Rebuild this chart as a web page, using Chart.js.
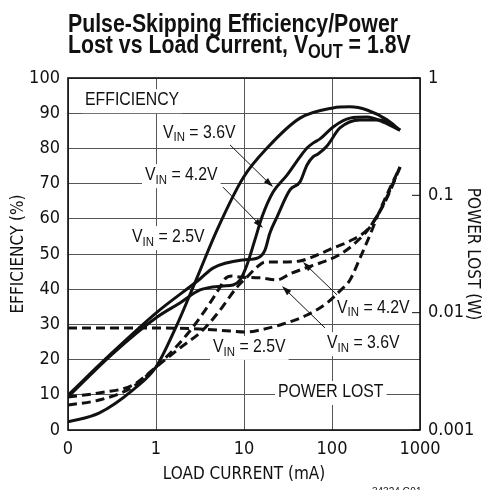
<!DOCTYPE html>
<html>
<head>
<meta charset="utf-8">
<script src="https://cdn.jsdelivr.net/npm/chart.js"></script>
<style>
  html, body { margin: 0; padding: 0; background: #fff; }
</style>
</head>
<body>
<canvas id="chart" width="495" height="490"></canvas>
<script>
const NARROW = "'Liberation Sans Narrow', 'DejaVu Sans Condensed', sans-serif";
const PLAIN = "'Liberation Sans', Arial, sans-serif";
const INK = '#111';

// axis ticks
const xTickValues = [0.1, 1, 10, 100, 1000];
const xTickLabels = ['0', '1', '10', '100', '1000'];
const powerTickValues = [0.001, 0.01, 0.1, 1];
const powerTickLabels = ['0.001', '0.01', '0.1', '1'];

// efficiency (%) vs load current (mA)
const effCurrent25 = [0.1, 0.225, 0.548, 1.0, 1.69, 2.85, 4.93, 9.75, 18.3, 43.3, 103, 160, 250, 422, 593];
const eff25 = [2.3, 4.8, 11.4, 17.9, 29.3, 42.6, 56.8, 71.6, 80.1, 88.6, 91.5, 91.8, 90.9, 88.1, 85.2];

const effCurrent36 = [0.1, 0.316, 1.03, 1.87, 3.16, 5.77, 7.5, 9.0, 10.8, 13.3, 16.0, 21.4, 30.8, 43.3, 52, 60.8, 73.1, 103, 160, 250, 380, 593];
const eff36 = [9.4, 21.5, 32.1, 36.1, 39.8, 40.9, 41.2, 42.6, 46.9, 54.0, 60.5, 67.6, 72.4, 77.6, 80.1, 81.5, 82.7, 86.1, 88.6, 88.9, 87.5, 85.2];

const effCurrent42 = [0.1, 0.316, 1.03, 3.16, 4.44, 9.75, 14.4, 17.3, 19.7, 23.7, 33.3, 43.3, 52, 60.8, 69.3, 87.7, 123, 208, 351, 593];
const eff42 = [9.9, 21.9, 33.5, 42.9, 46.0, 48.3, 48.9, 51.1, 56.0, 60.5, 68.2, 70.5, 75.3, 77.6, 78.4, 80.7, 85.8, 88.1, 88.1, 85.2];

// power lost (W) vs load current (mA)
const lossCurrent25 = [0.1, 0.39, 1.0, 3.16, 6.93, 10.8, 15.2, 27.7, 52, 87.7, 123, 160, 208, 270, 351, 456, 593];
const loss25 = [0.0074, 0.0074, 0.0074, 0.00726, 0.00698, 0.00684, 0.00712, 0.0080, 0.00955, 0.0121, 0.0153, 0.0190, 0.0292, 0.0459, 0.075, 0.1155, 0.174];

const lossCurrent36 = [0.1, 0.225, 0.548, 1.0, 1.69, 2.63, 4.11, 5.34, 6.08, 7.31, 9.0, 15.2, 23.7, 33.3, 46.8, 73.1, 114, 173, 270, 380, 593];
const loss36 = [0.00163, 0.0018, 0.00233, 0.00344, 0.0051, 0.00755, 0.0121, 0.0165, 0.0194, 0.0205, 0.0201, 0.0198, 0.0190, 0.0214, 0.0236, 0.0265, 0.0304, 0.0377, 0.0537, 0.0827, 0.174];

const lossCurrent42 = [0.1, 0.225, 0.548, 1.0, 1.87, 3.42, 5.34, 8.32, 10.8, 14.1, 17.3, 25.6, 43.3, 67.6, 103, 160, 250, 333, 433, 593];
const loss42 = [0.00191, 0.00207, 0.00242, 0.00344, 0.0050, 0.00712, 0.0105, 0.0165, 0.0201, 0.0245, 0.0270, 0.0270, 0.0276, 0.0310, 0.0356, 0.0408, 0.0507, 0.0680, 0.0993, 0.174];

// callouts: [text, subscript?] pieces, anchored left/middle at (mA, %)
const notes = [
  { x: 0.156, y: 93.7, parts: [['EFFICIENCY', false]] },
  { x: 1.2, y: 84.4, parts: [['V', false], ['IN', true], [' = 3.6V', false]] },
  { x: 0.75, y: 72.4, parts: [['V', false], ['IN', true], [' = 4.2V', false]] },
  { x: 0.534, y: 54.8, parts: [['V', false], ['IN', true], [' = 2.5V', false]] },
  { x: 4.44, y: 23.6, parts: [['V', false], ['IN', true], [' = 2.5V', false]] },
  { x: 114, y: 34.7, parts: [['V', false], ['IN', true], [' = 4.2V', false]] },
  { x: 87.7, y: 24.7, parts: [['V', false], ['IN', true], [' = 3.6V', false]] },
  { x: 24.3, y: 10.8, parts: [['POWER LOST', false]] }
];
// arrows: from (mA, %) to (mA, %)
const arrows = [
  [6.93, 81.0, 21.4, 69.0],
  [5.77, 69.0, 16.4, 57.4],
  [114, 38.4, 46.8, 47.7],
  [83.2, 29.0, 27.0, 40.9]
];

function points(xs, ys) {
  return xs.map((x, i) => ({ x, y: ys[i] }));
}

function curve(data, axis, dashed) {
  return {
    data,
    yAxisID: axis,
    borderColor: INK,
    borderWidth: 3,
    borderDash: dashed ? [9, 5] : [],
    pointRadius: 0,
    fill: false,
    cubicInterpolationMode: 'monotone'
  };
}

const LABEL_SIZE = 18;
const SUB_SIZE = 13;
const SQUEEZE = 0.88;

function partsWidth(ctx, parts) {
  let w = 0;
  parts.forEach(([t, sub]) => {
    ctx.font = (sub ? SUB_SIZE : LABEL_SIZE) + 'px ' + PLAIN;
    w += ctx.measureText(t).width;
  });
  return w * SQUEEZE;
}

function drawParts(ctx, parts, x, y) {
  ctx.save();
  ctx.translate(x, y);
  ctx.scale(SQUEEZE, 1);
  ctx.fillStyle = INK;
  ctx.textBaseline = 'middle';
  let cx = 0;
  parts.forEach(([t, sub]) => {
    ctx.font = (sub ? SUB_SIZE : LABEL_SIZE) + 'px ' + PLAIN;
    ctx.fillText(t, cx, sub ? 5 : 0);
    cx += ctx.measureText(t).width;
  });
  ctx.restore();
}

const notesPlugin = {
  id: 'notes',
  beforeDatasetsDraw(chart) {
    const { ctx, scales } = chart;
    notes.forEach(n => {
      const px = scales.x.getPixelForValue(n.x);
      const py = scales.y.getPixelForValue(n.y);
      const w = partsWidth(ctx, n.parts);
      ctx.fillStyle = '#fff';
      ctx.fillRect(px - 3, py - 11, w + 6, 24);
      drawParts(ctx, n.parts, px, py);
    });
  },
  afterDatasetsDraw(chart) {
    const { ctx, scales, chartArea: a } = chart;
    ctx.save();
    ctx.strokeStyle = INK;
    ctx.fillStyle = INK;
    ctx.lineWidth = 1;
    arrows.forEach(([x0, y0, x1, y1]) => {
      const ax = scales.x.getPixelForValue(x0);
      const ay = scales.y.getPixelForValue(y0);
      const bx = scales.x.getPixelForValue(x1);
      const by = scales.y.getPixelForValue(y1);
      const ang = Math.atan2(by - ay, bx - ax);
      ctx.beginPath();
      ctx.moveTo(ax, ay);
      ctx.lineTo(bx - 8 * Math.cos(ang), by - 8 * Math.sin(ang));
      ctx.stroke();
      ctx.beginPath();
      ctx.moveTo(bx, by);
      ctx.lineTo(bx - 10 * Math.cos(ang) + 3 * Math.sin(ang), by - 10 * Math.sin(ang) - 3 * Math.cos(ang));
      ctx.lineTo(bx - 10 * Math.cos(ang) - 3 * Math.sin(ang), by - 10 * Math.sin(ang) + 3 * Math.cos(ang));
      ctx.closePath();
      ctx.fill();
    });
    // small inner ticks of the power axis
    powerTickValues.forEach(v => {
      const py = scales.y2.getPixelForValue(v);
      ctx.beginPath();
      ctx.moveTo(a.right - 8, py);
      ctx.lineTo(a.right, py);
      ctx.stroke();
    });
    ctx.lineWidth = 1.6;
    ctx.strokeRect(a.left, a.top, a.right - a.left, a.bottom - a.top);
    ctx.restore();
  },
  afterDraw(chart) {
    const { ctx } = chart;
    ctx.save();
    ctx.fillStyle = INK;
    ctx.textBaseline = 'alphabetic';
    ctx.font = 'bold 26px ' + PLAIN;
    const line1 = 'Pulse-Skipping Efficiency/Power';
    const sq = 330 / ctx.measureText(line1).width;
    ctx.translate(68, 32);
    ctx.scale(sq, 1);
    ctx.fillText(line1, 0, 0);
    let cx = 0;
    [['Lost vs Load Current, V', 26, 0], ['OUT', 20, 5], [' = 1.8V', 26, 0]].forEach(([t, s, dy]) => {
      ctx.font = 'bold ' + s + 'px ' + PLAIN;
      ctx.fillText(t, cx, 21 + dy);
      cx += ctx.measureText(t).width;
    });
    ctx.restore();
    ctx.save();
    ctx.fillStyle = INK;
    ctx.font = '10px ' + PLAIN;
    ctx.fillText('34324 G01', 372, 495);
    ctx.restore();
  }
};

const tickFont = { family: NARROW, size: 18 };
const titleFont = { family: NARROW, size: 17 };
const gridStyle = { color: '#555', lineWidth: 1, drawTicks: false };

new Chart(document.getElementById('chart'), {
  type: 'line',
  data: {
    datasets: [
      curve(points(effCurrent25, eff25), 'y', false),
      curve(points(effCurrent36, eff36), 'y', false),
      curve(points(effCurrent42, eff42), 'y', false),
      curve(points(lossCurrent25, loss25), 'y2', true),
      curve(points(lossCurrent36, loss36), 'y2', true),
      curve(points(lossCurrent42, loss42), 'y2', true)
    ]
  },
  options: {
    responsive: false,
    animation: false,
    devicePixelRatio: 1,
    layout: { padding: { top: 78, left: 0, right: 0, bottom: 0 } },
    plugins: { legend: { display: false }, tooltip: { enabled: false } },
    scales: {
      x: {
        type: 'logarithmic',
        min: 0.1,
        max: 1000,
        afterBuildTicks: s => { s.ticks = xTickValues.map(v => ({ value: v })); },
        afterFit: s => { s.height = 60; },
        ticks: { color: INK, font: tickFont, padding: 9, maxRotation: 0, autoSkip: false,
          callback: (v, i) => xTickLabels[i] },
        grid: gridStyle,
        border: { display: false },
        title: { display: true, text: 'LOAD CURRENT (mA)', color: INK, font: titleFont, padding: { top: 0, bottom: 5 } }
      },
      y: {
        position: 'left',
        min: 0,
        max: 100,
        afterFit: s => { s.width = 68; },
        ticks: { stepSize: 10, color: INK, font: tickFont, padding: 8 },
        grid: gridStyle,
        border: { display: false },
        title: { display: true, text: 'EFFICIENCY (%)', color: INK, font: titleFont, padding: { top: 8, bottom: 0 } }
      },
      y2: {
        type: 'logarithmic',
        position: 'right',
        min: 0.001,
        max: 1,
        afterBuildTicks: s => { s.ticks = powerTickValues.map(v => ({ value: v })); },
        afterFit: s => { s.width = 75; },
        ticks: { color: INK, font: tickFont, padding: 8, autoSkip: false,
          callback: (v, i) => powerTickLabels[i] },
        grid: { display: false, drawTicks: false },
        border: { display: false },
        title: { display: true, text: 'POWER LOST (W)', color: INK, font: titleFont, padding: { top: 12, bottom: 0 } }
      }
    }
  },
  plugins: [notesPlugin]
});
</script>
</body>
</html>
